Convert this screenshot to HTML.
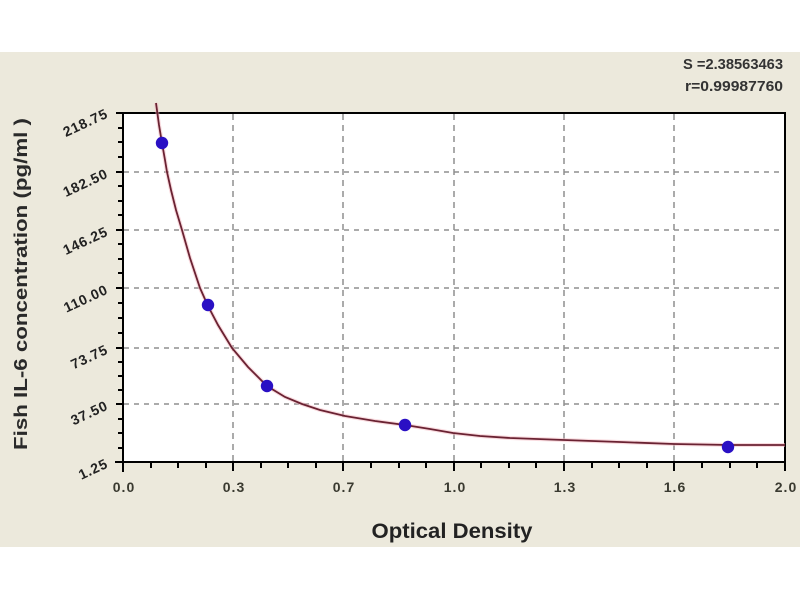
<!DOCTYPE html>
<html><head><meta charset="utf-8"><style>
html,body{margin:0;padding:0;background:#fff;}
svg{display:block;}
text{font-family:"Liberation Sans",Arial,sans-serif;}
</style></head><body>
<svg width="800" height="600" viewBox="0 0 800 600" xmlns="http://www.w3.org/2000/svg">
<rect x="0" y="0" width="800" height="600" fill="#ffffff"/>
<rect x="0" y="52" width="800" height="495" fill="#ece9dc"/>
<rect x="123" y="113" width="662" height="349" fill="#ffffff"/>
<!-- grid -->
<g stroke="#8f8f8f" stroke-width="1.5" stroke-dasharray="5 5" fill="none">
<line x1="124" y1="172" x2="784" y2="172"/>
<line x1="124" y1="230" x2="784" y2="230"/>
<line x1="124" y1="288" x2="784" y2="288"/>
<line x1="124" y1="348" x2="784" y2="348"/>
<line x1="124" y1="404" x2="784" y2="404"/>
</g>
<g stroke="#8f8f8f" stroke-width="1.5" stroke-dasharray="6 5" fill="none">
<line x1="233" y1="114" x2="233" y2="461"/>
<line x1="343" y1="114" x2="343" y2="461"/>
<line x1="454" y1="114" x2="454" y2="461"/>
<line x1="564" y1="114" x2="564" y2="461"/>
<line x1="674" y1="114" x2="674" y2="461"/>
</g>
<!-- frame -->
<rect x="123" y="113" width="662" height="349" fill="none" stroke="#000" stroke-width="2"/>
<line x1="123" y1="462" x2="123" y2="472" stroke="#000" stroke-width="2"/>
<line x1="115" y1="462" x2="123" y2="462" stroke="#000" stroke-width="2"/>
<!-- x ticks -->
<g stroke="#000" stroke-width="2">
<line x1="233" y1="462" x2="233" y2="471"/>
<line x1="343" y1="462" x2="343" y2="471"/>
<line x1="454" y1="462" x2="454" y2="471"/>
<line x1="564" y1="462" x2="564" y2="471"/>
<line x1="674" y1="462" x2="674" y2="471"/>
<line x1="785" y1="462" x2="785" y2="471"/>
<line x1="151" y1="462" x2="151" y2="468"/>
<line x1="178" y1="462" x2="178" y2="468"/>
<line x1="206" y1="462" x2="206" y2="468"/>
<line x1="261" y1="462" x2="261" y2="468"/>
<line x1="288" y1="462" x2="288" y2="468"/>
<line x1="316" y1="462" x2="316" y2="468"/>
<line x1="371" y1="462" x2="371" y2="468"/>
<line x1="399" y1="462" x2="399" y2="468"/>
<line x1="426" y1="462" x2="426" y2="468"/>
<line x1="481" y1="462" x2="481" y2="468"/>
<line x1="509" y1="462" x2="509" y2="468"/>
<line x1="536" y1="462" x2="536" y2="468"/>
<line x1="592" y1="462" x2="592" y2="468"/>
<line x1="619" y1="462" x2="619" y2="468"/>
<line x1="647" y1="462" x2="647" y2="468"/>
<line x1="702" y1="462" x2="702" y2="468"/>
<line x1="730" y1="462" x2="730" y2="468"/>
<line x1="757" y1="462" x2="757" y2="468"/>
</g>
<!-- y ticks -->
<g stroke="#000" stroke-width="2">
<line x1="116" y1="113" x2="123" y2="113"/>
<line x1="116" y1="172" x2="123" y2="172"/>
<line x1="116" y1="230" x2="123" y2="230"/>
<line x1="116" y1="288" x2="123" y2="288"/>
<line x1="116" y1="348" x2="123" y2="348"/>
<line x1="116" y1="404" x2="123" y2="404"/>
<line x1="118" y1="128" x2="123" y2="128"/>
<line x1="118" y1="142" x2="123" y2="142"/>
<line x1="118" y1="157" x2="123" y2="157"/>
<line x1="118" y1="186" x2="123" y2="186"/>
<line x1="118" y1="201" x2="123" y2="201"/>
<line x1="118" y1="215" x2="123" y2="215"/>
<line x1="118" y1="244" x2="123" y2="244"/>
<line x1="118" y1="259" x2="123" y2="259"/>
<line x1="118" y1="273" x2="123" y2="273"/>
<line x1="118" y1="303" x2="123" y2="303"/>
<line x1="118" y1="318" x2="123" y2="318"/>
<line x1="118" y1="333" x2="123" y2="333"/>
<line x1="118" y1="362" x2="123" y2="362"/>
<line x1="118" y1="376" x2="123" y2="376"/>
<line x1="118" y1="390" x2="123" y2="390"/>
<line x1="118" y1="419" x2="123" y2="419"/>
<line x1="118" y1="433" x2="123" y2="433"/>
<line x1="118" y1="448" x2="123" y2="448"/>
</g>
<!-- curve -->
<polyline fill="none" stroke="#f4b8c0" stroke-width="4" stroke-opacity="0.5" points="156,103 159,125 162,143 165,160 167,172 171,190 176,210 182,230 190,258 200,288 208,306 218,325 232,348 248,367 267,386 285,397 302,404 320,410 345,416 375,421 405,425 430,429 453,433 480,436 510,438 564,440 620,442 674,444 730,445 785,445"/>
<polyline fill="none" stroke="#6a2232" stroke-width="1.8" points="156,103 159,125 162,143 165,160 167,172 171,190 176,210 182,230 190,258 200,288 208,306 218,325 232,348 248,367 267,386 285,397 302,404 320,410 345,416 375,421 405,425 430,429 453,433 480,436 510,438 564,440 620,442 674,444 730,445 785,445"/>
<!-- points -->
<g fill="#2a10c4">
<circle cx="162" cy="143" r="6.2"/>
<circle cx="208" cy="305" r="6.2"/>
<circle cx="267" cy="386" r="6.2"/>
<circle cx="405" cy="425" r="6.2"/>
<circle cx="728" cy="447" r="6.2"/>
</g>
<!-- x tick labels -->
<g font-size="14" font-weight="bold" fill="#3a3a30" text-anchor="middle" letter-spacing="1">
<text x="124" y="492">0.0</text>
<text x="234" y="492">0.3</text>
<text x="344" y="492">0.7</text>
<text x="455" y="492">1.0</text>
<text x="565" y="492">1.3</text>
<text x="675" y="492">1.6</text>
<text x="786" y="492">2.0</text>
</g>
<!-- y tick labels -->
<g font-size="14" font-weight="bold" fill="#222" text-anchor="end" letter-spacing="0.8">
<text x="109" y="117" transform="rotate(-25 109 117)">218.75</text>
<text x="109" y="177" transform="rotate(-25 109 177)">182.50</text>
<text x="109" y="235" transform="rotate(-25 109 235)">146.25</text>
<text x="109" y="293" transform="rotate(-25 109 293)">110.00</text>
<text x="109" y="353" transform="rotate(-25 109 353)">73.75</text>
<text x="109" y="409" transform="rotate(-25 109 409)">37.50</text>
<text x="109" y="467" transform="rotate(-25 109 467)">1.25</text>
</g>
<!-- axis titles -->
<text x="452" y="538" font-size="21" font-weight="bold" fill="#222" text-anchor="middle" textLength="161" lengthAdjust="spacingAndGlyphs">Optical Density</text>
<text x="0" y="0" font-size="18" font-weight="bold" fill="#2a2a2a" text-anchor="middle" textLength="332" lengthAdjust="spacingAndGlyphs" transform="translate(27 284) rotate(-90)">Fish IL-6 concentration (pg/ml )</text>
<!-- stats -->
<g font-size="15" font-weight="bold" fill="#333" text-anchor="end">
<text x="783" y="69" textLength="100" lengthAdjust="spacingAndGlyphs">S =2.38563463</text>
<text x="783" y="91" textLength="98" lengthAdjust="spacingAndGlyphs">r=0.99987760</text>
</g>
</svg>
</body></html>
